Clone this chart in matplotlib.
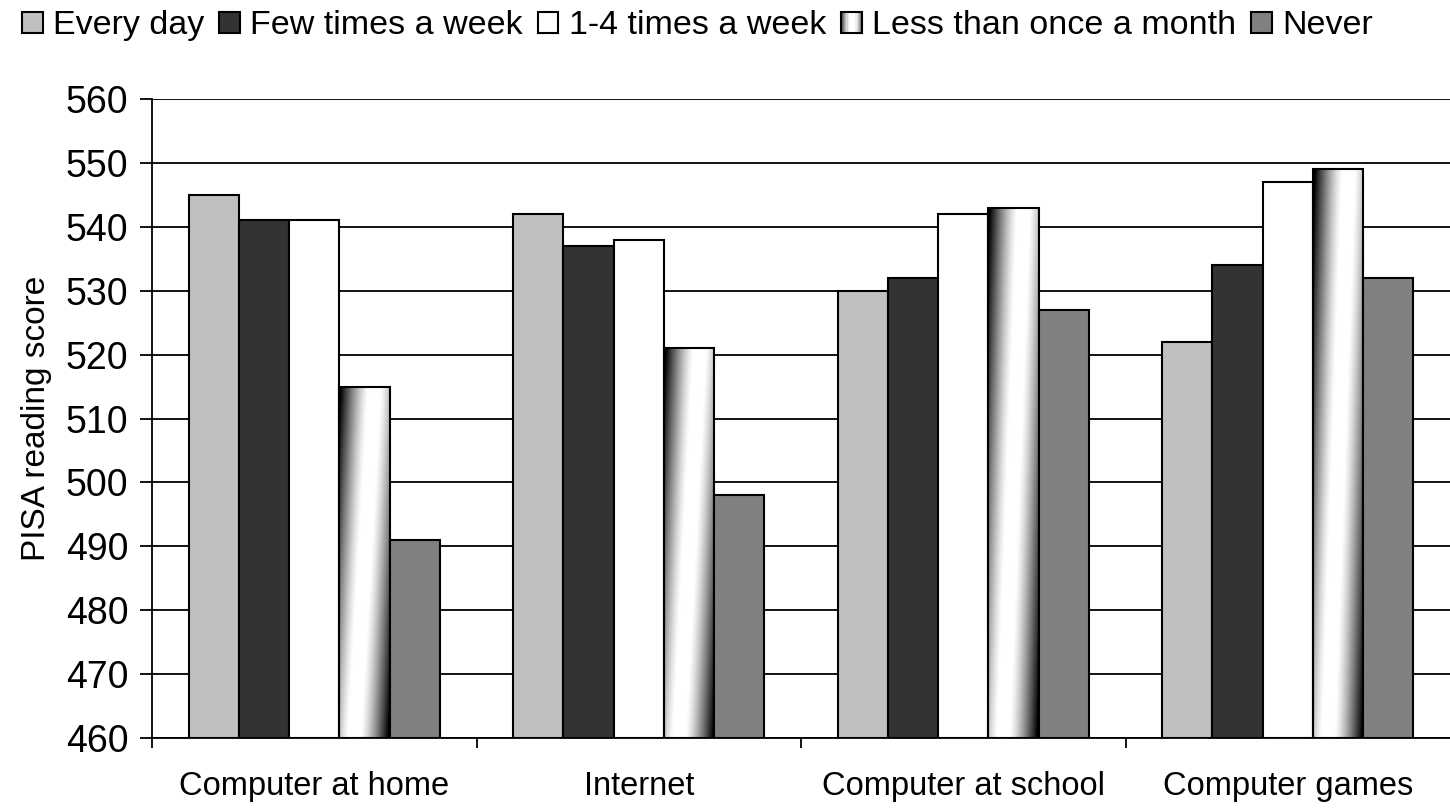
import numpy as np
import matplotlib.pyplot as plt
from matplotlib.patches import Rectangle, Patch
from matplotlib.legend_handler import HandlerBase

plt.rcParams['font.family'] = ['Liberation Sans', 'DejaVu Sans']

categories = ['Computer at home', 'Internet', 'Computer at school', 'Computer games']
series = ['Every day', 'Few times a week', '1-4 times a week',
          'Less than once a month', 'Never']
every_day = [545, 542, 530, 522]
few_week = [541, 537, 532, 534]
one_four_week = [541, 538, 542, 547]
less_month = [515, 521, 543, 549]
never = [491, 498, 527, 532]
values = [every_day, few_week, one_four_week, less_month, never]
colors = ['#c0c0c0', '#333333', '#ffffff', None, '#808080']


def grad_rgb(xn, yn):
    # white band running diagonally, dark at the edges
    c = 0.3 + 0.4 * yn
    d = np.clip(np.abs(xn - c) - 0.12, 0, None) / 0.55
    v = 1 - np.clip(d, 0, 1) ** 1.3
    return v


class GradHandler(HandlerBase):
    def create_artists(self, legend, orig_handle, xdescent, ydescent,
                       width, height, fontsize, trans):
        arts = []
        n = 16
        for i in range(n):
            xn = (i + 0.5) / n
            g = grad_rgb(xn, 0.6)
            r = Rectangle((-xdescent + width * i / n, -ydescent), width / n, height,
                          facecolor=(g, g, g), edgecolor='none', transform=trans)
            arts.append(r)
        arts.append(Rectangle((-xdescent, -ydescent), width, height, facecolor='none',
                              edgecolor='black', lw=1.5, transform=trans))
        return arts


fig = plt.figure(figsize=(14.5, 8.09), dpi=100)
ax = fig.add_axes([152 / 1450, 1 - 738 / 809, 1 - 152 / 1450, (738 - 99) / 809])

x = np.arange(len(categories))
w = 0.155
offsets = (np.arange(5) - 2) * w

yy, xx = np.mgrid[0:1:200j, 0:1:100j]
img = grad_rgb(xx, yy)

for k in range(5):
    if colors[k] is None:
        bars = ax.bar(x + offsets[k], np.array(values[k]) - 460, w, bottom=460,
                      facecolor='none', edgecolor='black', lw=1.5, zorder=4)
        for b in bars:
            x0, y0 = b.get_x(), b.get_y()
            im = ax.imshow(img, cmap='gray', vmin=0, vmax=1, origin='lower',
                           extent=[x0, x0 + b.get_width(), y0, y0 + b.get_height()],
                           aspect='auto', zorder=3, interpolation='bilinear')
            im.set_clip_path(b)
    else:
        ax.bar(x + offsets[k], np.array(values[k]) - 460, w, bottom=460,
               color=colors[k], edgecolor='black', lw=1.5, zorder=4)

ax.set_xlim(-0.5, 3.5)
ax.set_ylim(460, 560)
ax.set_yticks(range(460, 561, 10))
ax.yaxis.grid(True, color='black', lw=1.3)
ax.set_axisbelow(True)

ax.set_xticks(x)
ax.set_xticklabels(categories, fontsize=23.5)
ax.set_xticks([-0.5, 0.5, 1.5, 2.5], minor=True)
ax.tick_params(axis='x', which='major', length=0, pad=24)
ax.tick_params(axis='x', which='minor', length=7, width=1.3, direction='out')
ax.tick_params(axis='y', length=9, width=1.3, direction='out', pad=8, labelsize=27)

for s in ['top', 'right']:
    ax.spines[s].set_visible(False)
ax.spines['left'].set_linewidth(1.3)
ax.spines['bottom'].set_linewidth(1.3)

ax.set_ylabel('PISA reading score', fontsize=24, labelpad=10)

handles = []
for k in range(5):
    if colors[k] is None:
        handles.append(Patch(facecolor='white', edgecolor='black'))
    else:
        handles.append(Patch(facecolor=colors[k], edgecolor='black', lw=1.5))
fig.legend(handles, series, loc='center', bbox_to_anchor=(0.481, 0.968), ncol=5,
           frameon=False, fontsize=24.5, handlelength=0.6, handleheight=0.6,
           handletextpad=0.3, columnspacing=0.45,
           handler_map={handles[3]: GradHandler()})

fig.savefig('out.png', dpi=100)
